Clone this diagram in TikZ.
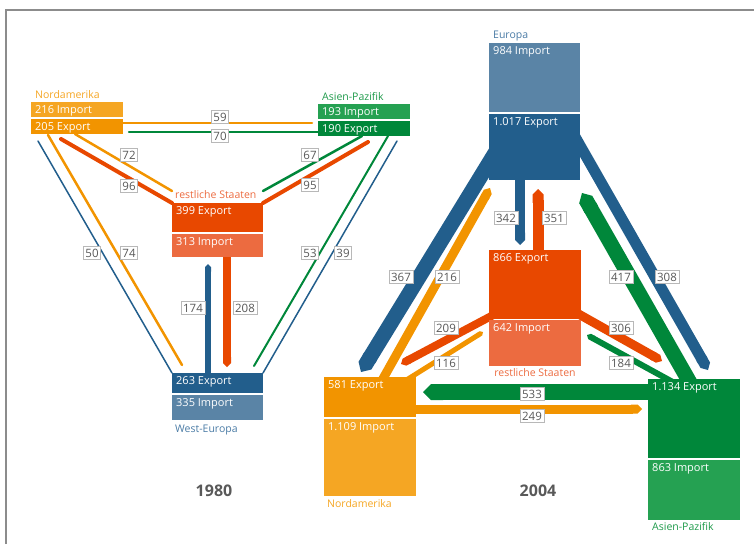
\documentclass[tikz,border=0pt]{standalone}
\usepackage{fontspec}
\setmainfont{Open Sans}
\usetikzlibrary{arrows.meta,backgrounds}

\definecolor{naDark}{HTML}{F29400}
\definecolor{naLight}{HTML}{F5A623}
\definecolor{asDark}{HTML}{00873A}
\definecolor{asLight}{HTML}{25A152}
\definecolor{asText}{HTML}{1E9A4A}
\definecolor{rsDark}{HTML}{E84800}
\definecolor{rsLight}{HTML}{EC6B40}
\definecolor{euDark}{HTML}{225E8C}
\definecolor{euLight}{HTML}{5A84A6}
\definecolor{euText}{HTML}{4A7BA5}

\tikzset{
  tbox/.style={anchor=north west, inner sep=0pt, outer sep=0pt},
  boxtext/.style={anchor=west, inner sep=0pt, text=white, font=\fontsize{11}{13}\selectfont},
  region/.style={anchor=west, inner sep=0pt, font=\fontsize{10.5}{12}\selectfont},
  amount/.style={draw=black!28, line width=0.8pt, fill=white, text=black!65,
    font=\fontsize{11.5}{13}\selectfont, inner xsep=2.2pt, inner ysep=1.5pt, minimum height=13.5pt},
  year/.style={font=\fontsize{16}{18}\selectfont\bfseries, text=black!65},
  flow/.style={line cap=round},
  band/.style={-{Triangle Cap}},
}

% box with its text in the upper left corner
\newcommand{\tradebox}[6]{%
  \node[tbox, fill=#5, minimum width=#3pt, minimum height=#4pt] (#1) at (#2) {};
  \node[boxtext] (#1-t) at ([shift={(4,9)}]#1.north west) {#6};}

\begin{document}
\begin{tikzpicture}[x=1pt, y=-1pt]
\useasboundingbox (0,0) rectangle (754,544);
\draw[black!45, line width=1.2pt] (6,544) -- (6,10) -- (754,10);

% 1980
\tradebox{na80im}{31,102}{92}{15}{naLight}{216 Import}
\tradebox{na80ex}{31,119}{92}{15}{naDark}{205 Export}
\tradebox{as80im}{318,104}{92}{15}{asLight}{193 Import}
\tradebox{as80ex}{318,121}{92}{15}{asDark}{190 Export}
\tradebox{rs80ex}{172,203}{91}{29}{rsDark}{399 Export}
\tradebox{rs80im}{172,234}{91}{23}{rsLight}{313 Import}
\tradebox{we80ex}{172,373}{91}{20}{euDark}{263 Export}
\tradebox{we80im}{172,395}{91}{25}{euLight}{335 Import}

\node[region, text=naLight] (na80) at (35,95) {Nordamerika};
\node[region, text=asText] (as80) at (322,97) {Asien-Pazifik};
\node[region, text=rsLight] (rs80) at (175,195) {restliche Staaten};
\node[region, text=euText] (we80) at (175,430) {West-Europa};
\node[year] (y80) at (214,491) {1980};

\begin{scope}[on background layer]
  \draw[flow, naDark, line width=2.5pt] ([shift={(0,4)}]na80ex.north east) -- ([shift={(-6,4)}]as80im.south west);
  \draw[flow, asDark, line width=2.5pt] ([shift={(6,-2)}]na80ex.south east) -- ([shift={(0,-4)}]as80ex.south west);
  \draw[flow, naDark, line width=2.5pt] ([shift={(44,0)}]na80ex.south west) -- ([shift={(0,-12)}]rs80ex.north west);
  \draw[flow, rsDark, line width=4pt] ([shift={(30,5)}]na80ex.south west) -- (rs80ex.north west);
  \draw[flow, euDark, line width=1.5pt] ([shift={(7,7)}]na80ex.south west) -- (we80ex.north west);
  \draw[flow, naDark, line width=2.5pt] ([shift={(17,1)}]na80ex.south west) -- ([shift={(10,-8)}]we80ex.north west);
  \draw[flow, asDark, line width=2.5pt] ([shift={(44,0)}]as80ex.south west) -- ([shift={(0,-12)}]rs80ex.north east);
  \draw[flow, rsDark, line width=4pt] ([shift={(50,6)}]as80ex.south west) -- (rs80ex.north east);
  \draw[flow, asDark, line width=2pt] ([shift={(70,0)}]as80ex.south west) -- ([shift={(-9,-7)}]we80ex.north east);
  \draw[flow, euDark, line width=1.5pt] ([shift={(79,5)}]as80ex.south west) -- (we80ex.north east);
  \draw[band, euDark, line width=6pt] ([shift={(36,2)}]we80ex.north west) -- ([shift={(36,7)}]rs80im.south west);
  \draw[band, rsDark, line width=8pt] ([shift={(55,-3)}]rs80im.south west) -- ([shift={(55,-6)}]we80ex.north west);
\end{scope}

\node[amount] (l59) at (220,117) {59};
\node[amount] (l70) at (220,136) {70};
\node[amount] (l72) at (129,155) {72};
\node[amount] (l96) at (129,186) {96};
\node[amount] (l50) at (92,253) {50};
\node[amount] (l74) at (129,253) {74};
\node[amount] (l67) at (310,155) {67};
\node[amount] (l95) at (310,185) {95};
\node[amount] (l53) at (310,253) {53};
\node[amount] (l39) at (343,253) {39};
\node[amount] (l174) at (193,308) {174};
\node[amount] (l208) at (245,308) {208};

% 2004
\tradebox{eu04im}{489,43}{91}{69}{euLight}{984 Import}
\tradebox{eu04ex}{489,114}{91}{66}{euDark}{1.017 Export}
\tradebox{rs04ex}{489,250}{92}{69}{rsDark}{866 Export}
\tradebox{rs04im}{489,320}{92}{46}{rsLight}{642 Import}
\tradebox{na04ex}{324,377}{92}{40}{naDark}{581 Export}
\tradebox{na04im}{324,419}{92}{77}{naLight}{1.109 Import}
\tradebox{as04ex}{648,379}{92}{79}{asDark}{1.134 Export}
\tradebox{as04im}{648,460}{92}{60}{asLight}{863 Import}

\node[region, text=euText] (eu04) at (493,36) {Europa};
\node[region, text=rsLight, anchor=center] (rs04) at (535,373) {restliche Staaten};
\node[region, text=naLight] (na04) at (327,504) {Nordamerika};
\node[region, text=asText] (as04) at (652,527) {Asien-Pazifik};
\node[year] (y04) at (538,491) {2004};

\begin{scope}[on background layer]
  \draw[band, euDark, line width=10pt] ([shift={(31,-6)}]eu04ex.south west) -- ([shift={(31,-5)}]rs04ex.north west);
  \draw[band, rsDark, line width=11pt] ([shift={(49,6)}]rs04ex.north west) -- ([shift={(49,9)}]eu04ex.south west);
  \draw[band, euDark, line width=15pt] ([shift={(14,26)}]eu04ex.north west) -- ([shift={(37,-5)}]na04ex.north west);
  \draw[band, naDark, line width=9pt] ([shift={(56,7)}]na04ex.north west) -- ([shift={(1,8)}]eu04ex.south west);
  \draw[band, rsDark, line width=8pt] ([shift={(8,-6)}]rs04ex.south west) -- ([shift={(77,-13)}]na04ex.north west);
  \draw[band, naDark, line width=5pt] ([shift={(76,7)}]na04ex.north west) -- ([shift={(-6,12)}]rs04im.north west);
  \draw[band, asDark, line width=15pt] ([shift={(49,16)}]as04ex.north west) -- ([shift={(2,13)}]eu04ex.south east);
  \draw[band, euDark, line width=11pt] ([shift={(-10,14)}]eu04ex.north east) -- ([shift={(60,-9)}]as04ex.north west);
  \draw[band, rsDark, line width=9pt] ([shift={(-6,-7)}]rs04ex.south east) -- ([shift={(14,-18)}]as04ex.north west);
  \draw[band, asDark, line width=6pt] ([shift={(32,7)}]as04ex.north west) -- ([shift={(6,15)}]rs04im.north east);
  \draw[band, asDark, line width=16pt] ([shift={(7,13)}]as04ex.north west) -- ([shift={(7,15)}]na04ex.north east);
  \draw[band, naDark, line width=9pt] ([shift={(-6,32)}]na04ex.north east) -- ([shift={(-6,30)}]as04ex.north west);
\end{scope}

\node[amount] (l342) at (506,218) {342};
\node[amount] (l351) at (554,218) {351};
\node[amount] (l367) at (401,277) {367};
\node[amount] (l216) at (447,277) {216};
\node[amount] (l417) at (621,277) {417};
\node[amount] (l308) at (667,277) {308};
\node[amount] (l209) at (446,328) {209};
\node[amount] (l306) at (621,328) {306};
\node[amount] (l116) at (446,363) {116};
\node[amount] (l184) at (621,363) {184};
\node[amount] (l533) at (532,394) {533};
\node[amount] (l249) at (532,416) {249};
\end{tikzpicture}
\end{document}
